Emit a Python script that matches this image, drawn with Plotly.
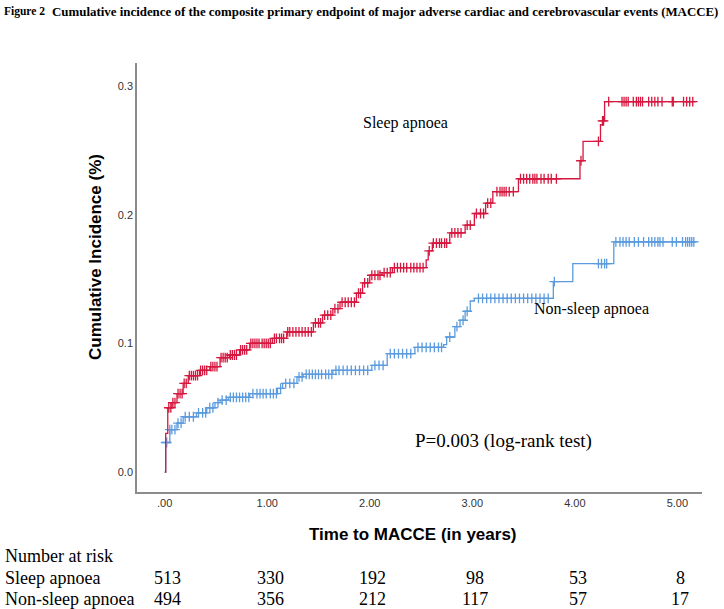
import numpy as np
import plotly.graph_objects as go

# ---- data ----
red_t = [0.0, 0.01, 0.03, 0.07, 0.12, 0.18, 0.23, 0.34, 0.44, 0.54, 0.63, 0.73, 0.83, 1.05, 1.19, 1.45, 1.54, 1.64, 1.71,
         1.87, 1.93, 2.00, 2.12, 2.22, 2.55, 2.57, 2.61, 2.78, 2.93, 3.02, 3.13, 3.20, 3.45, 4.05, 4.08, 4.25, 4.27, 4.29, 5.18]
red_y = [0.0, 0.030, 0.050, 0.054, 0.061, 0.069, 0.075, 0.079, 0.082, 0.089, 0.091, 0.095, 0.100, 0.104, 0.109, 0.116, 0.122,
         0.127, 0.132, 0.139, 0.147, 0.153, 0.155, 0.159, 0.165, 0.172, 0.178, 0.186, 0.192, 0.201, 0.209, 0.218, 0.228, 0.242,
         0.257, 0.270, 0.273, 0.288, 0.288]

blue_t = [0.0, 0.01, 0.05, 0.12, 0.18, 0.31, 0.41, 0.49, 0.54, 0.62, 0.83, 1.10, 1.15, 1.29, 1.35, 1.64, 2.02, 2.17, 2.44, 2.72,
          2.75, 2.83, 2.88, 2.93, 2.98, 3.02, 3.79, 3.98, 4.38, 5.18]
blue_y = [0.0, 0.023, 0.033, 0.038, 0.043, 0.046, 0.050, 0.054, 0.056, 0.058, 0.061, 0.065, 0.069, 0.074, 0.076, 0.079, 0.083,
          0.092, 0.097, 0.099, 0.105, 0.113, 0.118, 0.125, 0.133, 0.135, 0.148, 0.162, 0.179, 0.179]

red_censor = [0.04, 0.06, 0.08, 0.10, 0.13, 0.15, 0.17, 0.19, 0.21, 0.24, 0.26, 0.28, 0.30, 0.32, 0.35, 0.37, 0.39, 0.41, 0.45,
              0.47, 0.49, 0.51, 0.55, 0.57, 0.59, 0.61, 0.64, 0.66, 0.68, 0.70, 0.74, 0.76, 0.78, 0.80, 0.84, 0.86, 0.88, 0.90,
              0.92, 0.95, 0.97, 0.99, 1.01, 1.03, 1.07, 1.09, 1.12, 1.14, 1.16, 1.20, 1.22, 1.25, 1.28, 1.31, 1.34, 1.37, 1.40,
              1.43, 1.47, 1.50, 1.52, 1.56, 1.59, 1.62, 1.66, 1.69, 1.73, 1.76, 1.79, 1.82, 1.85, 1.89, 1.91, 1.95, 1.98, 2.02,
              2.05, 2.08, 2.10, 2.14, 2.17, 2.20, 2.24, 2.27, 2.30, 2.33, 2.36, 2.40, 2.43, 2.46, 2.49, 2.52, 2.58, 2.62, 2.65,
              2.68, 2.70, 2.73, 2.75, 2.80, 2.83, 2.86, 2.89, 2.95, 2.98, 3.04, 3.08, 3.11, 3.15, 3.18, 3.24, 3.27, 3.29, 3.31,
              3.33, 3.36, 3.40, 3.47, 3.50, 3.53, 3.56, 3.59, 3.61, 3.63, 3.67, 3.70, 3.74, 3.77, 3.82, 4.06, 4.23, 4.27, 4.28,
              4.33, 4.46, 4.48, 4.50, 4.52, 4.57, 4.60, 4.62, 4.64, 4.66, 4.72, 4.75, 4.78, 4.81, 4.85, 4.95, 4.96, 5.06, 5.09,
              5.12, 5.15]
blue_censor = [0.01, 0.02, 0.05, 0.07, 0.10, 0.13, 0.16, 0.20, 0.24, 0.28, 0.33, 0.37, 0.40, 0.44, 0.47, 0.52, 0.56, 0.60, 0.64,
               0.67, 0.70, 0.73, 0.76, 0.79, 0.82, 0.86, 0.90, 0.93, 0.96, 0.99, 1.03, 1.06, 1.09, 1.13, 1.18, 1.22, 1.26, 1.31,
               1.34, 1.38, 1.41, 1.44, 1.47, 1.50, 1.53, 1.57, 1.60, 1.63, 1.67, 1.70, 1.74, 1.78, 1.82, 1.86, 1.90, 1.94, 1.98,
               2.05, 2.09, 2.13, 2.20, 2.24, 2.28, 2.32, 2.36, 2.40, 2.47, 2.51, 2.55, 2.59, 2.63, 2.67, 2.70, 2.78, 2.85, 2.91,
               2.95, 3.06, 3.10, 3.14, 3.18, 3.22, 3.26, 3.30, 3.34, 3.38, 3.42, 3.46, 3.50, 3.54, 3.58, 3.62, 3.66, 3.70, 3.74,
               3.80, 4.23, 4.26, 4.29, 4.31, 4.40, 4.44, 4.47, 4.50, 4.53, 4.58, 4.62, 4.67, 4.72, 4.75, 4.78, 4.81, 4.83, 4.86,
               4.95, 4.99, 5.05, 5.08, 5.10, 5.12, 5.14, 5.16]

x_ticks = [0, 1, 2, 3, 4, 5]
x_tick_labels = [".00", "1.00", "2.00", "3.00", "4.00", "5.00"]
y_ticks = [0.0, 0.1, 0.2, 0.3]

risk_groups = ["Sleep apnoea", "Non-sleep apnoea"]
risk_sleep = [513, 330, 192, 98, 53, 8]
risk_nonsleep = [494, 356, 212, 117, 57, 17]

RED = "#D6173F"
BLUE = "#5B9BDE"

W, H = 724, 609
L, R, T, B = 137, 22, 63, 117
PW, PH = W - L - R, H - T - B


def px(x):
    return (x - L) / PW


def py(y):
    return (H - B - y) / PH


def step_value(ts, ys, t):
    ts = np.asarray(ts)
    idx = np.searchsorted(ts, t, side="right") - 1
    return np.asarray(ys)[idx]


fig = go.Figure()
for ts, ys, cens, col in [(blue_t, blue_y, blue_censor, BLUE), (red_t, red_y, red_censor, RED)]:
    fig.add_trace(go.Scatter(x=ts, y=ys, mode="lines", line=dict(color=col, width=1.3, shape="hv"),
                             showlegend=False, hoverinfo="skip"))
    fig.add_trace(go.Scatter(x=cens, y=step_value(ts, ys, np.asarray(cens)), mode="markers",
                             marker=dict(symbol="cross-thin", size=7, line=dict(color=col, width=1.3)),
                             showlegend=False, hoverinfo="skip"))

serif = "Liberation Serif, Times New Roman, serif"
sans = "Liberation Sans, Arial, sans-serif"


def A(x, y, text, size, family=serif, xanchor="center", xref="paper", yref="paper", **kw):
    return dict(x=x, y=y, xref=xref, yref=yref, text=text, showarrow=False, xanchor=xanchor, yanchor="middle",
                font=dict(family=family, size=size, color="black"), **kw)


ann = [
    A(px(2), py(12), "<b>Figure 2</b>", 11.5, xanchor="left"),
    A(px(50), py(12),
      "<b>Cumulative incidence of the composite primary endpoint of major adverse cardiac and cerebrovascular events (MACCE)</b>",
      12.9, xanchor="left"),
    A(2.35, 0.271, "Sleep apnoea", 16, xref="x", yref="y"),
    A(4.16, 0.127, "Non-sleep apnoea", 16, xref="x", yref="y"),
    A(3.30, 0.024, "P=0.003 (log-rank test)", 19, xref="x", yref="y"),
    A(px(95), py(257), "<b>Cumulative Incidence (%)</b>", 17, family=sans, textangle=-90),
    A(px(413), py(534), "<b>Time to MACCE (in years)</b>", 17, family=sans),
    A(px(3), py(556), "Number at risk", 18, xanchor="left"),
]
for row_y, name, vals in [(578, risk_groups[0], risk_sleep), (599, risk_groups[1], risk_nonsleep)]:
    ann.append(A(px(3), py(row_y), name, 18, xanchor="left"))
    for xt, v in zip(x_ticks, vals):
        ann.append(A(xt + 0.03, py(row_y), str(v), 18, xref="x"))

fig.update_layout(
    width=W, height=H,
    margin=dict(l=L, r=R, t=T, b=B),
    plot_bgcolor="white", paper_bgcolor="white",
    annotations=ann,
    xaxis=dict(range=[-0.27, 5.24], tickvals=x_ticks, ticktext=x_tick_labels, showgrid=False, zeroline=False,
               showline=True, linecolor="#8c8c8c", linewidth=1.5, ticks="", ticklen=0,
               tickfont=dict(family=sans, size=11, color="#333333")),
    yaxis=dict(range=[-0.0155, 0.318], tickvals=y_ticks, tickformat=".1f", showgrid=False, zeroline=False,
               showline=True, linecolor="#8c8c8c", linewidth=1.5, ticks="", ticklen=0,
               tickfont=dict(family=sans, size=11, color="#333333")),
)

fig.write_html("out.html", config={"displayModeBar": False},
               post_script="document.body.style.margin='0';document.body.style.overflow='hidden';")
